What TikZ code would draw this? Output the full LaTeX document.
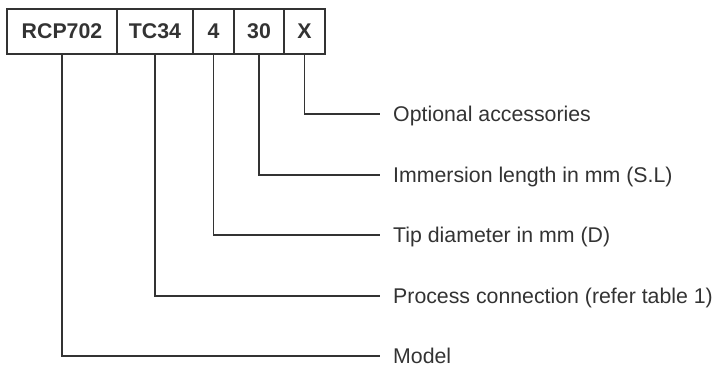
\documentclass[tikz,border=0pt]{standalone}
\usepackage{fontspec}
\setmainfont{Liberation Sans}
\usetikzlibrary{positioning}
\definecolor{inkgray}{HTML}{333333}
\tikzset{
	partbox/.style={draw=inkgray, line width=1.6pt, outer sep=0pt, inner sep=0pt, minimum height=45pt, text=inkgray, font=\fontsize{21.3}{26}\selectfont\bfseries},
	partlabel/.style={anchor=west, inner xsep=13pt, inner ysep=0pt, text height=15.2pt, text depth=0pt, text=inkgray, font=\fontsize{21.3}{26}\selectfont},
	lead/.style={draw=inkgray, line width=1.6pt}
}

\begin{document}
\begin{tikzpicture}[x=1pt, y=1pt]
			%%%%% START %%%%%
			\useasboundingbox (0, 0) rectangle (714, 365);
			
			\node[partbox, minimum width=110pt, anchor=west] (rcp) at (7, 333.5) {RCP702};
			\node[partbox, minimum width=76pt, right=0pt of rcp] (tc) {TC34};
			\node[partbox, minimum width=41pt, right=0pt of tc] (dia) {4};
			\node[partbox, minimum width=50pt, right=0pt of dia] (len) {30};
			\node[partbox, minimum width=41pt, right=0pt of len] (acc) {X};
			
			\node[partlabel] (optional) at (380, 251) {Optional accessories};
			\node[partlabel] (immersion) at (380, 190) {Immersion length in mm (S.L)};
			\node[partlabel] (tip) at (380, 130) {Tip diameter in mm (D)};
			\node[partlabel] (process) at (380, 69) {Process connection (refer table 1)};
			\node[partlabel] (model) at (380, 9) {Model};
			
			\draw[lead] (acc.south) |- (optional.west);
			\draw[lead] (len.south) |- (immersion.west);
			\draw[lead] (dia.south) |- (tip.west);
			\draw[lead] (tc.south) |- (process.west);
			\draw[lead] (rcp.south) |- (model.west);
			
			%%%%% END %%%%%
		\end{tikzpicture}
\end{document}
